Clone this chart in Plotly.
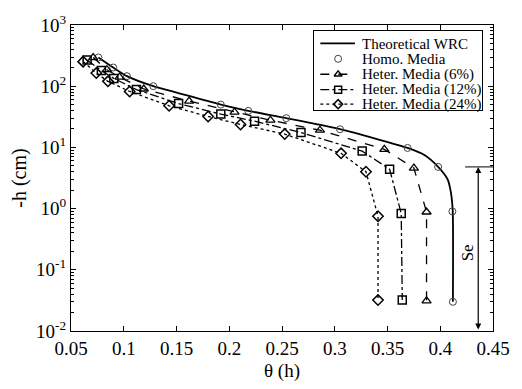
import math
import plotly.graph_objects as go

# ---- data ----
theory_theta = [0.076, 0.090, 0.103, 0.128, 0.160, 0.192, 0.218, 0.254, 0.305, 0.369,
                0.385, 0.398, 0.407, 0.410, 0.4118, 0.412]
theory_h = [295, 202, 146, 100, 70.6, 50, 39.5, 30, 19.8, 9.8,
            7.5, 4.8, 3.0, 1.87, 0.93, 0.03]

homo_theta = [0.076, 0.090, 0.103, 0.128, 0.192, 0.218, 0.254, 0.305, 0.369, 0.398, 0.4115, 0.412]
homo_h = [295, 202, 146, 100, 50, 39.5, 30, 19.8, 9.8, 4.8, 0.90, 0.030]

het6_theta = [0.071, 0.084, 0.096, 0.119, 0.162, 0.205, 0.239, 0.286, 0.347, 0.375, 0.387, 0.387]
het6_h = [294, 186, 141, 90, 57, 37.6, 27.8, 19.1, 9.3, 4.6, 0.88, 0.031]

het12_theta = [0.0653, 0.0788, 0.0906, 0.112, 0.152, 0.192, 0.224, 0.268, 0.326, 0.352, 0.363, 0.364]
het12_h = [267, 180, 134, 88, 52, 35, 26.8, 17.5, 8.7, 4.4, 0.83, 0.032]

het24_theta = [0.0615, 0.074, 0.085, 0.1056, 0.143, 0.180, 0.2107, 0.2526, 0.306, 0.3296, 0.341, 0.341]
het24_h = [252, 164, 120, 82, 47.9, 32, 23.7, 16.5, 8.0, 4.0, 0.75, 0.032]

series_names = ["Theoretical WRC", "Homo. Media", "Heter. Media (6%)",
                "Heter. Media (12%)", "Heter. Media (24%)"]

se_top_h = 4.8
se_bottom_h = 0.01
se_x = 0.436

x_ticks = [0.05, 0.1, 0.15, 0.2, 0.25, 0.3, 0.35, 0.4, 0.45]
x_ticklabels = ["0.05", "0.1", "0.15", "0.2", "0.25", "0.3", "0.35", "0.4", "0.45"]
y_ticks = [0.01, 0.1, 1, 10, 100, 1000]
y_ticklabels = ["10<sup>-2</sup>", "10<sup>-1</sup>", "10<sup>0</sup>",
                "10<sup>1</sup>", "10<sup>2</sup>", "10<sup>3</sup>"]

FONT = "Liberation Serif"

# styles per series
styles = [
    dict(mode="lines", line=dict(color="black", width=1.8, shape="spline", smoothing=0.6)),
    dict(mode="markers", marker=dict(symbol="circle-open", size=7, color="#444", line=dict(width=1))),
    dict(mode="lines+markers", line=dict(color="black", width=1.3, dash="dash"),
         marker=dict(symbol="triangle-up-open", size=8, color="black", line=dict(width=1.3))),
    dict(mode="lines+markers", line=dict(color="black", width=1.3, dash="dashdot"),
         marker=dict(symbol="square-open", size=8, color="black", line=dict(width=1.5))),
    dict(mode="lines+markers", line=dict(color="black", width=1.3, dash="dot"),
         marker=dict(symbol="diamond-open", size=8, color="black", line=dict(width=1.5))),
]
series = [(theory_theta, theory_h), (homo_theta, homo_h), (het6_theta, het6_h),
          (het12_theta, het12_h), (het24_theta, het24_h)]

fig = go.Figure()
for (xs, ys), st, nm in zip(series, styles, series_names):
    fig.add_trace(go.Scatter(x=xs, y=ys, name=nm, showlegend=False, **st))

# horizontal bar at top of the Se arrow
fig.add_trace(go.Scatter(x=[0.4236, 0.45], y=[se_top_h, se_top_h], mode="lines",
                         line=dict(color="black", width=1), showlegend=False, hoverinfo="skip"))

fig.add_annotation(x=se_x, y=math.log10(se_top_h), ax=se_x, ay=math.log10(se_bottom_h),
                   xref="x", yref="y", axref="x", ayref="y", text="",
                   showarrow=True, arrowhead=2, arrowside="end+start", arrowsize=1,
                   arrowwidth=1.2, arrowcolor="black", standoff=0, startstandoff=0)
fig.add_annotation(x=0.426, y=-0.72, xref="x", yref="y", text="Se", showarrow=False,
                   textangle=-90, font=dict(family=FONT, size=17, color="black"))

# ---- legend box drawn in an inset subplot (px-like units) ----
LW, LH = 169.4, 82.0
row_y = [13, 29, 45, 61, 76]
fig.add_trace(go.Scatter(x=[0, LW, LW, 0, 0], y=[0, 0, LH, LH, 0], mode="lines", fill="toself",
                         fillcolor="white", line=dict(width=0), xaxis="x2", yaxis="y2",
                         showlegend=False, hoverinfo="skip"))
for i, (st, nm) in enumerate(zip(styles, series_names)):
    yy = row_y[i]
    if st["mode"] == "markers":
        fig.add_trace(go.Scatter(x=[24], y=[yy], mode="markers", marker=st["marker"],
                                 xaxis="x2", yaxis="y2", showlegend=False, hoverinfo="skip"))
    else:
        line = dict(st["line"])
        line.pop("shape", None)
        line.pop("smoothing", None)
        fig.add_trace(go.Scatter(x=[6, 41], y=[yy, yy], mode="lines", line=line,
                                 xaxis="x2", yaxis="y2", showlegend=False, hoverinfo="skip"))
        if "marker" in st:
            mk = dict(st["marker"])
            mk["size"] = 7
            fig.add_trace(go.Scatter(x=[24], y=[yy], mode="markers", marker=mk,
                                     xaxis="x2", yaxis="y2", showlegend=False, hoverinfo="skip"))
    fig.add_annotation(x=46, y=yy, xref="x2", yref="y2", text=nm, showarrow=False,
                       xanchor="left", yanchor="middle", height=15, valign="middle",
                       font=dict(family=FONT, size=15, color="black"))

axis_common = dict(showline=True, linecolor="black", linewidth=1, mirror="allticks",
                   ticks="inside", tickcolor="black", ticklen=5, showgrid=False, zeroline=False,
                   tickfont=dict(family=FONT, size=19, color="black"))

minor_vals = [m * 10 ** e for e in range(-2, 3) for m in range(2, 10)]

fig.update_layout(
    xaxis=dict(range=[0.05, 0.45], tickmode="array", tickvals=x_ticks, ticktext=x_ticklabels,
               title=dict(text="θ (h)", font=dict(family=FONT, size=19, color="black"), standoff=5),
               **axis_common),
    yaxis=dict(type="log", range=[-2, 3], tickmode="array", tickvals=y_ticks, ticktext=y_ticklabels,
               minor=dict(ticks="inside", ticklen=3, tickcolor="black", showgrid=False,
                          tickmode="array", tickvals=minor_vals),
               title=dict(text="-h (cm)", font=dict(family=FONT, size=20, color="black"), standoff=4),
               **axis_common),
    xaxis2=dict(domain=[0.5768, 0.9735], range=[0, LW], anchor="y2", showline=True, mirror=True,
                linecolor="black", linewidth=1, showticklabels=False, ticks="", showgrid=False,
                zeroline=False, fixedrange=True),
    yaxis2=dict(domain=[0.7224, 0.981], range=[LH, 0], anchor="x2", showline=True, mirror=True,
                linecolor="black", linewidth=1, showticklabels=False, ticks="", showgrid=False,
                zeroline=False, fixedrange=True),
    width=522, height=389,
    margin=dict(l=71, r=24, t=17, b=55),
    plot_bgcolor="white", paper_bgcolor="white",
    font=dict(family=FONT, color="black"),
    showlegend=False,
)

fig.write_html("out.html")
